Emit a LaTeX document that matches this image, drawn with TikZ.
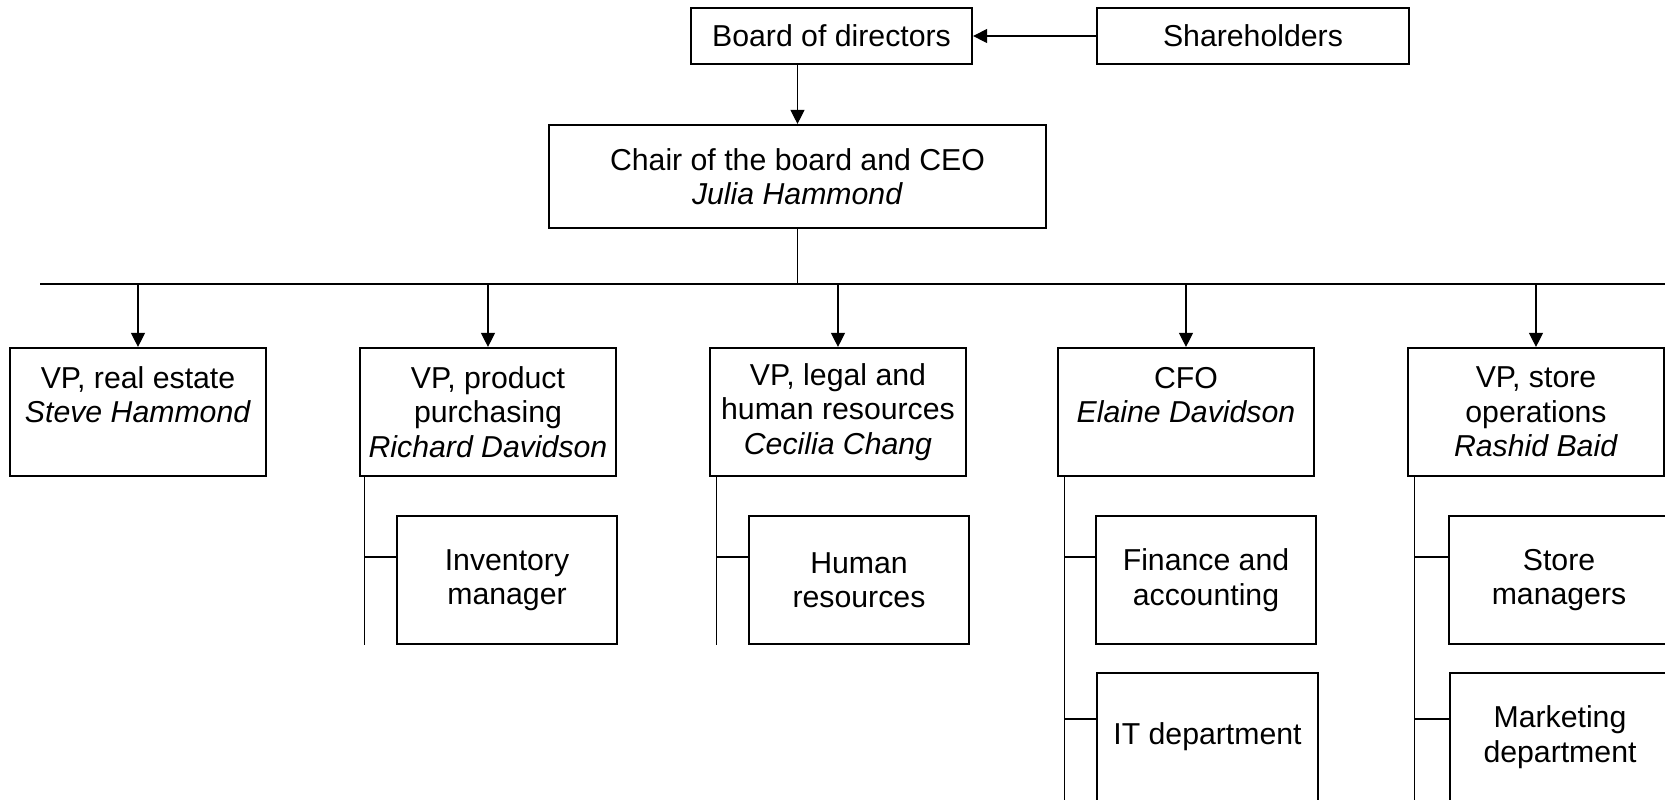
\documentclass[tikz,border=0pt]{standalone}
\usepackage{fontspec}
\setmainfont{Liberation Sans}
\usetikzlibrary{arrows.meta,calc}
\begin{document}
\begin{tikzpicture}[x=0.01cm,y=-0.01cm,
  box/.style={draw,line width=0.6pt,inner sep=0pt,align=center,
    font={\fontsize{8.6pt}{9.8pt}\selectfont}},
  vpbox/.style={box,minimum width=2.56cm,minimum height=1.28cm},
  subbox/.style={box,minimum width=2.2cm,minimum height=1.28cm},
  link/.style={line width=0.33pt},
  arr/.style={link,-{Triangle[length=4pt,width=4pt]}}]
\useasboundingbox (0,0) rectangle (1665,799);
\fill[white] (0,0) rectangle (1665,799);
\clip (0,0) rectangle (1665,799);

% top of the hierarchy
\node[box,minimum width=2.81cm,minimum height=0.56cm] (board) at (831.5,36) {Board of directors};
\node[box,minimum width=3.12cm,minimum height=0.56cm] (share) at (1253,36) {Shareholders};
\node[box,minimum width=4.97cm,minimum height=1.03cm] (ceo) at (797.5,176.5)
  {Chair of the board and CEO\\\textit{Julia Hammond}};

% vice presidents
\node[vpbox] (vp1) at (138,412) {VP, real estate\\\textit{Steve Hammond}\\\mbox{}};
\node[vpbox] (vp2) at (488,412) {VP, product\\purchasing\\\textit{Richard Davidson}};
\node[vpbox] (vp3) at (838,412) {VP, legal and\\human resources\\\textit{Cecilia Chang}};
\node[vpbox] (vp4) at (1186,412) {CFO\\\textit{Elaine Davidson}\\\mbox{}};
\node[vpbox] (vp5) at (1536,412) {VP, store\\operations\\\textit{Rashid Baid}};

% departments
\node[subbox] (inv) at (507,580) {Inventory\\manager};
\node[subbox] (hr)  at (859,580) {Human\\resources};
\node[subbox] (fin) at (1206,580) {Finance and\\accounting};
\node[subbox] (it)  at (1207.5,737) {IT department};
\node[subbox] (sm)  at (1559,580) {Store\\managers};
\node[subbox] (mk)  at (1560,737) {Marketing\\department};

% bus line below the CEO
\coordinate (busL) at (40,284);
\coordinate (busR) at (1700,284);
\coordinate (bottom) at (0,820);

\draw[arr] (share.west) -- (board.east);
\draw[arr] (ceo.north |- board.south) -- (ceo.north);
\draw[link] (ceo.south) -- (ceo.south |- busL);
\draw[link] (busL) -- (busR);
\foreach \v in {vp1,vp2,vp3,vp4,vp5}
  \draw[arr] (\v.north |- busL) -- (\v.north);

% department spines
\coordinate (s2) at ($(vp2.south west)+(6,0)$);
\coordinate (s3) at ($(vp3.south west)+(8,0)$);
\coordinate (s4) at ($(vp4.south west)+(8,0)$);
\coordinate (s5) at ($(vp5.south west)+(8,0)$);
\draw[link] (s2) -- (s2 |- inv.south);
\draw[link] (s3) -- (s3 |- hr.south);
\draw[link] (s4) -- (s4 |- bottom);
\draw[link] (s5) -- (s5 |- bottom);

\coordinate (c1) at ($(inv.north west)+(0,42)$);
\coordinate (c2) at ($(hr.north west)+(0,42)$);
\coordinate (c3) at ($(fin.north west)+(0,42)$);
\coordinate (c4) at ($(it.north west)+(0,47)$);
\coordinate (c5) at ($(sm.north west)+(0,42)$);
\coordinate (c6) at ($(mk.north west)+(0,47)$);
\draw[link] (s2 |- c1) -- (c1);
\draw[link] (s3 |- c2) -- (c2);
\draw[link] (s4 |- c3) -- (c3);
\draw[link] (s4 |- c4) -- (c4);
\draw[link] (s5 |- c5) -- (c5);
\draw[link] (s5 |- c6) -- (c6);
\end{tikzpicture}
\end{document}
